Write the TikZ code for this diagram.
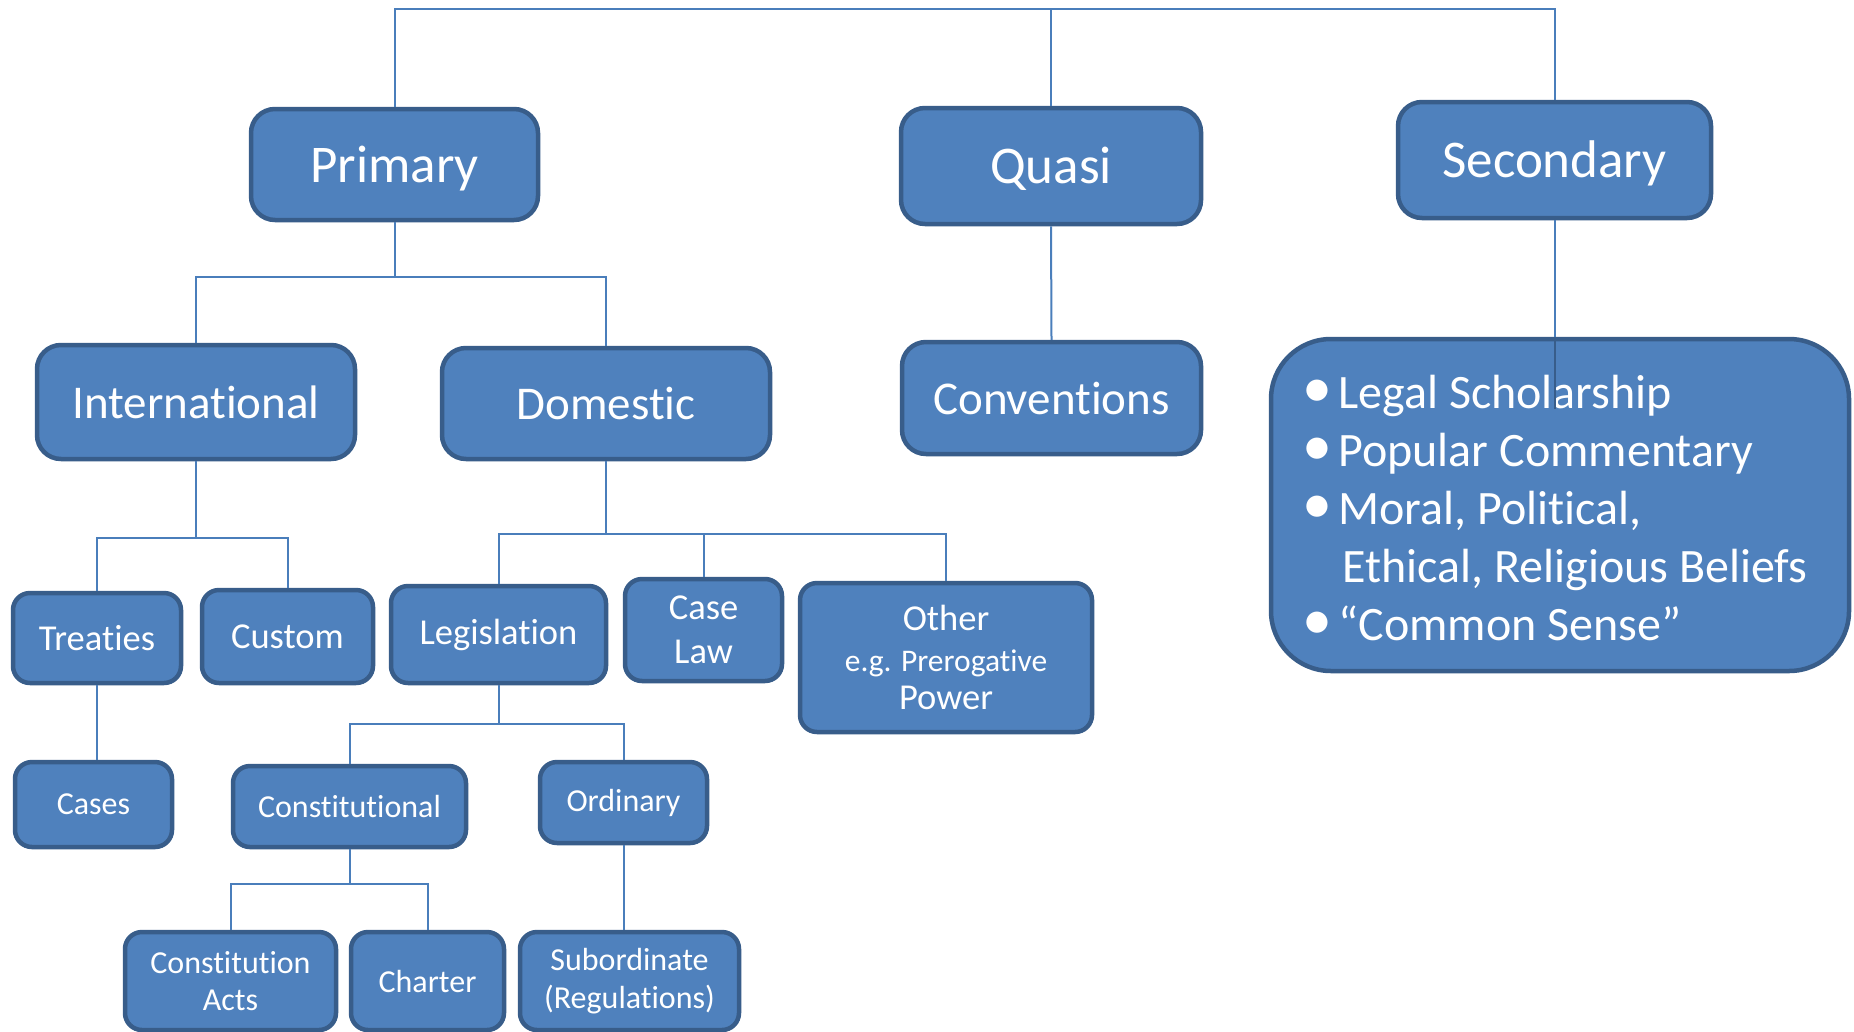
\documentclass[tikz,border=0pt]{standalone}
\usepackage{fontspec}
\setmainfont{Carlito}[Ligatures=NoCommon, Contextuals=NoAlternate, RawFeature={-liga;-clig;-calt}]
\definecolor{fil}{HTML}{4F81BD}
\definecolor{bdr}{HTML}{385D8A}
\definecolor{lnk}{HTML}{4A7EBB}
\newcommand{\bul}{\raisebox{1pt}{\scalebox{1.25}{\textbullet}}}
\begin{document}
\begin{tikzpicture}[x=1pt,y=-1pt,
  box/.style={draw=bdr, fill=fil, line width=4.5pt, rounded corners=24pt, text=white, align=center, inner sep=0pt},
  sbox/.style={box, rounded corners=17pt},
  big/.style={font=\fontsize{53}{64}\selectfont, text height=45pt, text depth=10pt},
  mid/.style={font=\fontsize{47}{56}\selectfont},
  med/.style={font=\fontsize{36.5}{44}\selectfont},
  sml/.style={font=\fontsize{32}{37.5}\selectfont},
  conn/.style={draw=lnk, line width=2pt}]
\useasboundingbox (0,0) rectangle (1854,1031);
\fill[white] (0,0) rectangle (1854,1031);

% top level
\node[box,big,minimum width=287,minimum height=111] (prim) at (394.5,164.5) {Primary};
\node[box,big,minimum width=300,minimum height=116] (quasi) at (1051,166) {Quasi};
\node[box,big,minimum width=313,minimum height=116] (sec) at (1554.5,160) {Secondary};

% second level
\node[box,mid,minimum width=318,minimum height=114] (intl) at (196,402) {International};
\node[box,mid,minimum width=328,minimum height=111] (dom) at (606,403.5) {Domestic};
\node[box,mid,minimum width=299,minimum height=112] (conv) at (1051.5,398) {Conventions};
\node[box,rounded corners=60pt,minimum width=578,minimum height=332] (secbox) at (1560,505) {};
\node[text=white, inner sep=0pt, anchor=center] (sectext) at (1555,513)
 {\fontsize{48}{58}\selectfont\begin{tabular}{@{}c@{\hspace{6pt}}l@{}}
 \bul & Legal Scholarship\\
 \bul & Popular Commentary\\
 \bul & Moral, Political,\\
  & \hspace{4pt}Ethical, Religious Beliefs\\
 \bul & “Common Sense”
 \end{tabular}};

% third level
\node[sbox,med,minimum width=168,minimum height=90] (treat) at (97,638) {Treaties};
\node[sbox,med,minimum width=171,minimum height=93] (cust) at (287.5,636.5) {Custom};
\node[sbox,med,minimum width=215,minimum height=97] (legis) at (498.5,634.5) {Legislation};
\node[sbox,med,minimum width=157,minimum height=102] (case) at (703.5,630) {Case\\Law};
\node[sbox,med,minimum width=292,minimum height=149] (other) at (946,657.5)
 {Other\\[-3pt]\fontsize{31.5}{32.5}\selectfont e.g. Prerogative\\[-6pt]Power};

% fourth level
\node[sbox,sml,minimum width=157,minimum height=85] (cases) at (93.5,804.5) {Cases};
\node[sbox,sml,minimum width=233,minimum height=81] (consti) at (349.5,806.5) {Constitutional};
\node[sbox,sml,minimum width=167,minimum height=81] (ord) at (623.5,802.5) {Ordinary};

% fifth level
\node[sbox,sml,minimum width=211,minimum height=98] (acts) at (230.5,981) {Constitution\\Acts};
\node[sbox,sml,minimum width=153,minimum height=98] (chart) at (427.5,981) {Charter};
\node[sbox,sml,minimum width=219,minimum height=98] (subo) at (629.5,981) {Subordinate\\(Regulations)};

% connectors
\draw[conn] (prim.north) -- ++(0,-98) coordinate (tl) -- (tl -| sec.north) -- (sec.north);
\draw[conn] (quasi.north) -- (quasi.north |- tl);
\draw[conn] (quasi.south) -- (conv.north);
\draw[conn] (sec.south) -- (sec.south |- secbox.north);
\draw[draw=bdr, line width=2pt] (sec.south |- secbox.north) -- ++(0,72) coordinate (secend);

\draw[conn] (prim.south) -- ++(0,55) coordinate (j1);
\draw[conn] (intl.north) |- (j1) -| (dom.north);

\draw[conn] (intl.south) -- ++(0,77) coordinate (j2);
\draw[conn] (treat.north) |- (j2) -| (cust.north);

\draw[conn] (dom.south) -- ++(0,73) coordinate (j3);
\draw[conn] (legis.north) |- (j3) -| (other.north);
\draw[conn] (case.north) -- (case.north |- j3);

\draw[conn] (treat.south) -- (treat.south |- cases.north);

\draw[conn] (legis.south) -- ++(0,39) coordinate (j4);
\draw[conn] (consti.north) |- (j4) -| (ord.north);

\draw[conn] (consti.south) -- ++(0,35) coordinate (j5);
\draw[conn] (acts.north) |- (j5) -| (chart.north);

\draw[conn] (ord.south) -- (ord.south |- subo.north);
\end{tikzpicture}
\end{document}
